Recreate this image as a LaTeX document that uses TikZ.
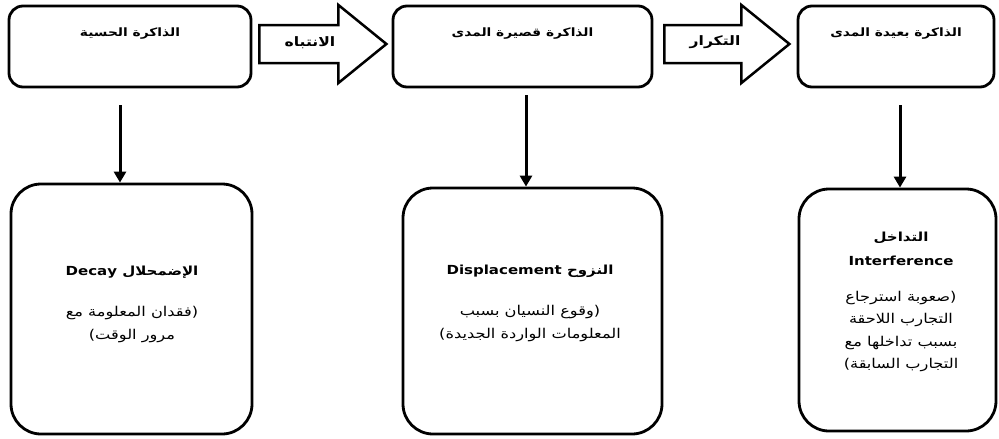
\documentclass[tikz,border=0pt]{standalone}
\usepackage{fontspec}
\setmainfont[FakeStretch=1.2]{DejaVu Sans}
\newfontfamily\arabicfont[Script=Arabic,FakeStretch=1.2]{DejaVu Sans}
\TeXXeTstate=1
\usetikzlibrary{arrows.meta,positioning,calc}
\newcommand{\ar}[1]{{\arabicfont\beginR #1\endR}}

\begin{document}
\begin{tikzpicture}[x=1pt,y=-1pt,
      oben/.style={rectangle, draw=black, line width=2.8pt, rounded corners=14pt, minimum height=81pt},
      unten/.style={rectangle, draw=black, line width=2.8pt, rounded corners=30pt},
      titel/.style={font=\bfseries\fontsize{11.5}{14}\selectfont},
      plabel/.style={font=\bfseries\fontsize{13}{15}\selectfont},
      beschr/.style={align=center, font=\fontsize{13.5}{22.5}\selectfont},
      blk/.style={draw=black, line width=2.5pt, fill=white},
      pfeil/.style={-{Triangle[length=11pt,width=12pt]}, line width=3pt}]

\useasboundingbox (0,0) rectangle (999,439);

% obere Reihe
\node[oben, minimum width=242pt] (m1) at (130,46.5) {};
\node[oben, minimum width=259pt] (m2) at (522.5,46.5) {};
\node[oben, minimum width=196pt] (m3) at (896,46.5) {};
\node[titel] (m1t) at (130,34) {\ar{الذاكرة الحسية}};
\node[titel] (m2t) at (522.5,34) {\ar{الذاكرة قصيرة المدى}};
\node[titel] (m3t) at (896,34) {\ar{الذاكرة بعيدة المدى}};

% Blockpfeile
\coordinate (a1) at ($(m1.east)+(7,-2.5)$);
\coordinate (a2) at ($(m2.east)+(11,-2.5)$);
\draw[blk] ($(a1)+(0,-19)$) -- ++(79,0) -- ++(0,-20) -- ++(48,39) -- ++(-48,39) -- ++(0,-20) -- ++(-79,0) -- cycle;
\draw[blk] ($(a2)+(0,-19)$) -- ++(77,0) -- ++(0,-20) -- ++(48,39) -- ++(-48,39) -- ++(0,-20) -- ++(-77,0) -- cycle;
\node[plabel] (a1t) at (310,43) {\ar{الانتباه}};
\node[plabel] (a2t) at (715,42) {\ar{التكرار}};

% untere Reihe
\node[unten, minimum width=241pt, minimum height=250pt] (f1) at (131.5,309) {};
\node[unten, minimum width=259pt, minimum height=246pt] (f2) at (532.5,311) {};
\node[unten, minimum width=197pt, minimum height=242pt] (f3) at (897.5,310) {};

\node[beschr] (f1t) at (132,304) {\ar{\textbf{\fontsize{12.5}{15}\selectfont الإضمحلال \beginL Decay\endL}}\\[19pt]
  \ar{(فقدان المعلومة مع}\\ \ar{مرور الوقت)}};
\node[beschr] (f2t) at (530,303) {\ar{\textbf{\fontsize{12.5}{15}\selectfont النزوح \beginL Displacement\endL}}\\[19pt]
  \ar{(وقوع النسيان بسبب}\\ \ar{المعلومات الواردة الجديدة)}};
\node[beschr] (f3t) at (901,302) {\ar{\textbf{\fontsize{12.5}{15}\selectfont التداخل}}\\[2pt]
  \textbf{\fontsize{12.5}{15}\selectfont Interference}\\[13pt]
  \ar{(صعوبة استرجاع}\\ \ar{التجارب اللاحقة}\\ \ar{بسبب تداخلها مع}\\ \ar{التجارب السابقة)}};

% Pfeile nach unten
\coordinate (d1) at (120,105);
\coordinate (d2) at (526,95);
\coordinate (d3) at (900,105);
\draw[pfeil] (d1) -- (d1 |- f1.north);
\draw[pfeil] (d2) -- (d2 |- f2.north);
\draw[pfeil] (d3) -- (d3 |- f3.north);

\end{tikzpicture}
\end{document}
